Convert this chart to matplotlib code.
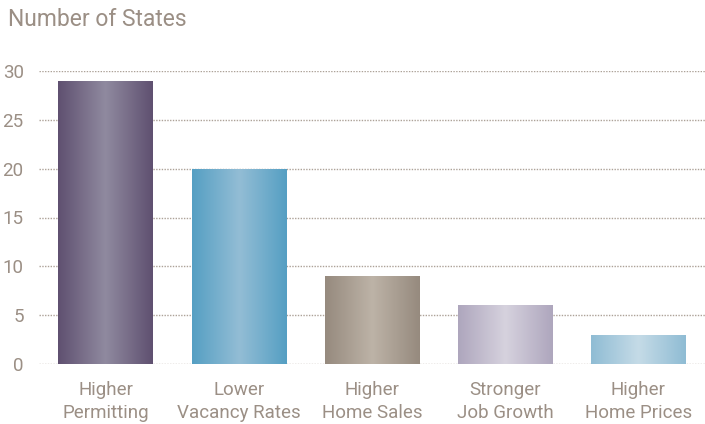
import numpy as np
import matplotlib.pyplot as plt
from matplotlib.colors import LinearSegmentedColormap

categories = ["Higher\nPermitting", "Lower\nVacancy Rates", "Higher\nHome Sales",
              "Stronger\nJob Growth", "Higher\nHome Prices"]
values = [29, 20, 9, 6, 3]
edge_colors = ["#5f5070", "#559fc3", "#968a7e", "#aea6bd", "#8fbcd4"]
mid_colors = ["#908a9f", "#93bdd5", "#bdb3a7", "#d6d2de", "#c5dbe7"]

text_color = "#9b8f85"
plt.rcParams['font.family'] = ['Roboto', 'DejaVu Sans']

fig = plt.figure(figsize=(7.05, 4.24), dpi=100)
ax = fig.add_axes([39 / 705, 1 - 364 / 424, 1 - 39 / 705, 293 / 424])

width = 0.71
# horizontal gradient: dark edges, light centre
t = np.linspace(0, 1, 256)
profile = 1 - np.abs(2 * t - 1)
grad = profile[np.newaxis, :]

bars = ax.bar(range(len(values)), values, width=width, color='none', zorder=3)
for i, (b, v) in enumerate(zip(bars, values)):
    cmap = LinearSegmentedColormap.from_list(f"g{i}", [edge_colors[i], mid_colors[i]])
    x0 = b.get_x()
    im = ax.imshow(grad, cmap=cmap, aspect='auto', vmin=0, vmax=1,
                   extent=[x0, x0 + b.get_width(), 0, v], zorder=3)
    im.set_clip_path(b)

ax.set_xlim(-0.5, len(values) - 0.5)
ax.set_ylim(0, 30)
ax.set_yticks([0, 5, 10, 15, 20, 25, 30])
ax.set_xticks(range(len(values)))
ax.set_xticklabels(categories, linespacing=1.4)

ax.grid(axis='y', linestyle=(0, (1, 1)), color="#ada298", linewidth=1, zorder=0)
ax.set_axisbelow(True)
for s in ax.spines.values():
    s.set_visible(False)
ax.tick_params(axis='both', length=0, colors=text_color, labelsize=13.5)
ax.tick_params(axis='y', pad=11)
ax.tick_params(axis='x', pad=12)

fig.text(8 / 705, 1 - 20 / 424, "Number of States", color=text_color,
         fontsize=16.5, va='center', ha='left')

fig.savefig("out.png", dpi=100)
